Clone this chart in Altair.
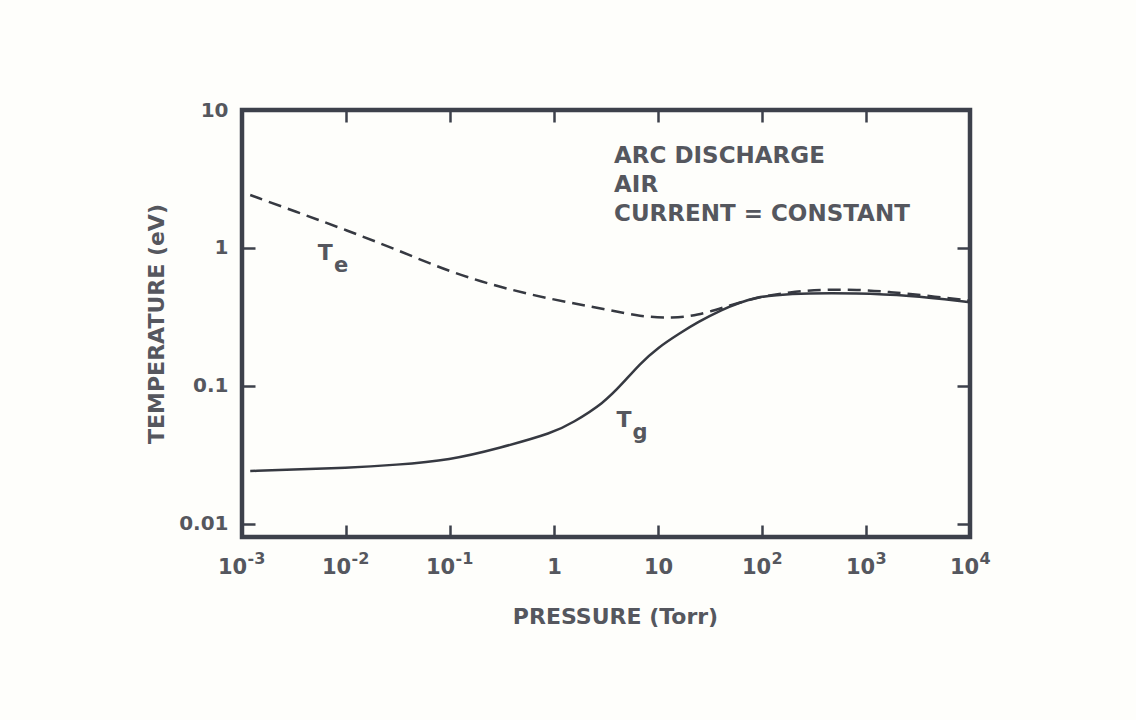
import altair as alt
import pandas as pd

# Electron temperature (dashed curve), pressure in Torr, temperature in eV
te_pressure = [0.0012, 0.0036, 0.01, 0.031, 0.1, 0.3, 1, 3.2, 6.7, 14, 24, 42, 90, 186, 386, 820, 1700, 3500, 10000]
te_temp = [2.42, 1.79, 1.35, 0.97, 0.67, 0.52, 0.42, 0.36, 0.318, 0.31, 0.325, 0.37, 0.44, 0.48, 0.50, 0.50, 0.48, 0.455, 0.415]

# Gas temperature (solid curve)
tg_pressure = [0.0012, 0.003, 0.01, 0.03, 0.1, 0.3, 1, 1.5, 3, 4.6, 6.7, 10, 16, 24, 42, 60, 90, 130, 270, 800, 2500, 10000]
tg_temp = [0.0242, 0.0248, 0.0255, 0.0268, 0.029, 0.0355, 0.046, 0.054, 0.075, 0.105, 0.145, 0.19, 0.24, 0.29, 0.36, 0.40, 0.44, 0.455, 0.47, 0.47, 0.455, 0.405]

# Axis ticks and their labels (decade base and exponent drawn separately)
x_ticks = [1e-3, 1e-2, 1e-1, 1, 10, 1e2, 1e3, 1e4]
x_tick_base = ["10", "10", "10", "1", "10", "10", "10", "10"]
x_tick_exp = ["-3", "-2", "-1", "", "", "2", "3", "4"]
y_ticks = [0.01, 0.1, 1, 10]
y_tick_labels = ["0.01", "0.1", "1", "10"]

# Curve labels: main letter, subscript, anchor point
curve_label_main = ["T", "T"]
curve_label_sub = ["e", "g"]
curve_label_p = [0.0063, 4.7]
curve_label_t = [0.92, 0.0567]

# Annotation block
note_lines = ["ARC DISCHARGE", "AIR", "CURRENT = CONSTANT"]
note_p = [3.78]
note_t = [5.62]

te_df = pd.DataFrame({"P": te_pressure, "T": te_temp})
tg_df = pd.DataFrame({"P": tg_pressure, "T": tg_temp})
lab_df = pd.DataFrame({"P": curve_label_p, "T": curve_label_t,
                       "main": curve_label_main, "sub": curve_label_sub})
note_df = pd.DataFrame({"P": note_p, "T": note_t, "txt": ["\n".join(note_lines)]})

FONT = "DejaVu Sans"
INK = "#3d414b"
TXT = "#55575e"
LINE = "#363941"

x_scale = alt.Scale(type="log", domain=[1e-3, 1e4], nice=False)
y_scale = alt.Scale(type="log", domain=[0.00805, 10], nice=False)


def lookup_expr(labels, shift):
    return "[" + ",".join("'%s'" % s for s in labels) + "][round(log(datum.value)/LN10) + %d]" % shift


common_tick = dict(grid=False, domain=False, tickColor=INK, tickWidth=2.5, labelFlush=False,
                   labelOverlap=False, labelBound=False)

# bottom axis: inward ticks, decade base labels and the axis title
x_bottom = alt.Axis(
    orient="bottom", values=x_ticks, labelExpr=lookup_expr(x_tick_base, 3), offset=-12, tickSize=12,
    labelPadding=19, labelFont=FONT, labelFontSize=21, labelFontWeight="bold", labelColor=TXT,
    labelOffset={"condition": [{"test": "datum.value < 0.5", "value": -10},
                               {"test": "datum.value > 50", "value": -6}], "value": 0},
    title="PRESSURE (Torr)", titleFont=FONT, titleFontSize=22, titleFontWeight="bold",
    titleColor=TXT, titlePadding=29, titleX=373, **common_tick)
# second bottom axis carrying the raised exponents
x_exp = alt.Axis(
    orient="bottom", values=x_ticks, labelExpr=lookup_expr(x_tick_exp, 3), offset=0, ticks=False,
    tickSize=0, labelPadding=13, labelFont=FONT, labelFontSize=16, labelFontWeight="bold",
    labelColor=TXT, labelAlign="left",
    labelOffset={"condition": [{"test": "datum.value < 0.5", "value": 5},
                               {"test": "datum.value > 50", "value": 9}], "value": 0},
    title=None, grid=False, domain=False, labelFlush=False, labelOverlap=False, labelBound=False)
x_top = alt.Axis(orient="top", values=x_ticks, labels=False, offset=-12, tickSize=12, title=None, **common_tick)
y_left = alt.Axis(
    orient="left", values=y_ticks, labelExpr=lookup_expr(y_tick_labels, 2), offset=-13, tickSize=13,
    labelPadding=14, labelFont=FONT, labelFontSize=20, labelFontWeight="bold", labelColor=TXT,
    title="TEMPERATURE (eV)", titleFont=FONT, titleFontSize=22, titleFontWeight="bold",
    titleColor=TXT, titlePadding=10, **common_tick)
y_right = alt.Axis(orient="right", values=y_ticks, labels=False, offset=-13, tickSize=13, title=None, **common_tick)

te_line = alt.Chart(te_df).mark_line(color=LINE, strokeWidth=2.5, strokeDash=[13, 7],
                                     interpolate="basis").encode(
    x=alt.X("P:Q", scale=x_scale, axis=x_bottom),
    y=alt.Y("T:Q", scale=y_scale, axis=y_left),
)

tg_line = alt.Chart(tg_df).mark_line(color=LINE, strokeWidth=2.5, interpolate="basis").encode(
    x=alt.X("P:Q", scale=x_scale, axis=x_top),
    y=alt.Y("T:Q", scale=y_scale, axis=y_right),
)

lab_main = alt.Chart(lab_df).mark_text(font=FONT, fontSize=22, fontWeight="bold", color=TXT,
                                       align="center", baseline="middle").encode(
    x=alt.X("P:Q", scale=x_scale, axis=x_exp),
    y=alt.Y("T:Q", scale=y_scale, axis=None),
    text="main:N",
)
lab_sub = alt.Chart(lab_df).mark_text(font=FONT, fontSize=21, fontWeight="bold", color=TXT,
                                      align="center", baseline="middle", dx=16, dy=13).encode(
    x=alt.X("P:Q", scale=x_scale, axis=None),
    y=alt.Y("T:Q", scale=y_scale, axis=None),
    text="sub:N",
)

note = alt.Chart(note_df).mark_text(font=FONT, fontSize=23, fontWeight="bold", color=TXT,
                                    align="left", baseline="top", lineBreak="\n", lineHeight=29).encode(
    x=alt.X("P:Q", scale=x_scale, axis=None),
    y=alt.Y("T:Q", scale=y_scale, axis=None),
    text="txt:N",
)

chart = alt.layer(te_line, tg_line, lab_main, lab_sub, note).resolve_axis(
    x="independent", y="independent"
).properties(
    width=728, height=427,
    autosize=alt.AutoSizeParams(type="none"),
    padding={"left": 242, "top": 110, "right": 166, "bottom": 183},
    background="#fefefb",
).configure_view(stroke=INK, strokeWidth=4.5)

chart.save("out.html", embed_options={"renderer": "svg", "actions": False})
